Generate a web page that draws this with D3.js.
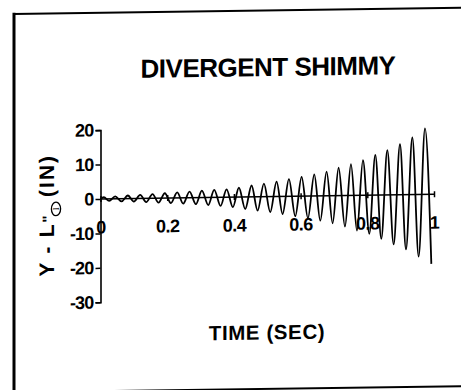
<!DOCTYPE html>
<html>
<head>
<meta charset="utf-8">
<script src="https://cdn.jsdelivr.net/npm/d3@7"></script>
<style>
  html, body { margin: 0; padding: 0; background: #fff; }
  svg { display: block; }
</style>
</head>
<body>
<script>
// Labels
const chartTitle = "DIVERGENT SHIMMY";
const xTitle = "TIME (SEC)";
const xTicks = [0, 0.2, 0.4, 0.6, 0.8, 1];
const xTickLabels = ["0", "0.2", "0.4", "0.6", "0.8", "1"];
const yTicks = [20, 10, 0, -10, -20, -30];
const yTickLabels = ["20", "10", "0", "-10", "-20", "-30"];

// Turning points of the shimmy trace: time (s) and lateral displacement (in)
const time = [
  0, 0.010, 0.026, 0.044, 0.063, 0.082, 0.100, 0.119, 0.137, 0.156, 0.174,
  0.193, 0.211, 0.230, 0.248, 0.267, 0.286, 0.304, 0.323, 0.341, 0.360,
  0.378, 0.397, 0.415, 0.434, 0.453, 0.471, 0.490, 0.509, 0.528, 0.546,
  0.565, 0.584, 0.603, 0.622, 0.641, 0.659, 0.678, 0.696, 0.714, 0.733,
  0.751, 0.769, 0.787, 0.806, 0.824, 0.842, 0.860, 0.879, 0.898, 0.916,
  0.935, 0.954, 0.973, 0.992
];
const displacement = [
  0, 0.5, -0.6, 0.7, -0.8, 0.9, -0.9, 1.0, -1.1, 1.2, -1.3,
  1.4, -1.5, 1.6, -1.7, 1.8, -1.9, 2.0, -2.2, 2.2, -2.5,
  2.3, -2.9, 2.7, -3.5, 3.3, -4.0, 3.8, -4.5, 4.3, -5.1,
  5.0, -5.8, 5.6, -6.4, 6.3, -7.2, 7.0, -8.0, 8.1, -9.0,
  9.1, -10.2, 10.2, -11.2, 11.7, -12.7, 13.0, -14.4, 14.7, -15.9,
  16.6, -18.0, 19.2, -20.2
];

const W = 461, H = 390;
const FONT = "'Liberation Sans', Arial, Helvetica, sans-serif";

const svg = d3.select("body").append("svg")
  .attr("width", W).attr("height", H)
  .style("background", "#fff");

// the whole sheet sits with a slight tilt
const g = svg.append("g").attr("transform", "matrix(1,-0.014,0,1,0,0)");

// page frame
g.append("line").attr("x1", 14).attr("x2", 14).attr("y1", 13).attr("y2", 400)
  .attr("stroke", "#000").attr("stroke-width", 3);
g.append("line").attr("x1", 13).attr("x2", 480).attr("y1", 14.2).attr("y2", 14.2)
  .attr("stroke", "#000").attr("stroke-width", 2);
g.append("line").attr("x1", 13).attr("x2", 480).attr("y1", 392.6).attr("y2", 392.6)
  .attr("stroke", "#000").attr("stroke-width", 2);

// scales
const x = d3.scaleLinear().domain([0, 1]).range([100.5, 434]);
const y = d3.scaleLinear().domain([-30, 20]).range([303.7, 131.5]);

// title
g.append("text")
  .attr("x", 268).attr("y", 79.8)
  .attr("text-anchor", "middle")
  .attr("font-family", FONT).attr("font-weight", "bold")
  .attr("font-size", 26).attr("letter-spacing", -0.5)
  .text(chartTitle);

// y axis
const yAxis = g.append("g")
  .attr("transform", `translate(${x(0)},0)`)
  .call(d3.axisLeft(y).tickValues(yTicks)
    .tickFormat((d, i) => yTickLabels[i])
    .tickSize(5).tickPadding(2));
yAxis.attr("font-family", FONT).attr("font-size", 18).attr("font-weight", "bold");
yAxis.selectAll("text").attr("letter-spacing", -0.8).attr("fill", "#000");
yAxis.selectAll("line").attr("stroke", "#000").attr("stroke-width", 1.5);
yAxis.select(".domain").attr("stroke", "#000").attr("stroke-width", 1.6);

// x axis drawn through zero
const xAxis = g.append("g")
  .attr("transform", `translate(0,${y(0)})`)
  .call(d3.axisBottom(x).tickValues(xTicks)
    .tickFormat((d, i) => xTickLabels[i])
    .tickSize(3).tickPadding(18.6));
xAxis.attr("font-family", FONT).attr("font-size", 18).attr("font-weight", "bold");
xAxis.selectAll("text").attr("letter-spacing", -0.5).attr("fill", "#000");
xAxis.selectAll(".tick line").attr("y1", -3).attr("stroke", "#000").attr("stroke-width", 1.5);
xAxis.select(".domain").attr("stroke", "#000").attr("stroke-width", 1.6)
  .attr("d", `M${x(0)},0H${x(1)}`);

// displacement trace
const pts = time.map((t, i) => [t, displacement[i]]);
g.append("path")
  .datum(pts)
  .attr("fill", "none")
  .attr("stroke", "#000")
  .attr("stroke-width", 1.8)
  .attr("stroke-linejoin", "round")
  .attr("d", d3.line().x(d => x(d[0])).y(d => y(d[1])).curve(d3.curveMonotoneX));

// x axis title
g.append("text")
  .attr("x", 267).attr("y", 343.2)
  .attr("text-anchor", "middle")
  .attr("font-family", FONT).attr("font-weight", "bold")
  .attr("font-size", 20.5).attr("letter-spacing", 0.6)
  .text(xTitle);

// y axis title: Y - L" with a circled subscript I, then (IN)
const yt = g.append("g")
  .attr("transform", "translate(54,283.7) rotate(-90)")
  .attr("font-family", FONT).attr("font-weight", "bold");
yt.append("text")
  .attr("x", 6.5).attr("y", 0)
  .attr("font-size", 21)
  .attr("textLength", 52).attr("lengthAdjust", "spacing")
  .text("Y - L");
yt.append("text")
  .attr("x", 60.5).attr("y", -1)
  .attr("font-size", 15)
  .text("\"");
yt.append("ellipse")
  .attr("cx", 74).attr("cy", 2).attr("rx", 6.8).attr("ry", 4.6)
  .attr("fill", "none").attr("stroke", "#000").attr("stroke-width", 1.3);
yt.append("text")
  .attr("x", 74).attr("y", 5.2)
  .attr("text-anchor", "middle")
  .attr("font-family", "'Liberation Serif', 'DejaVu Serif', serif")
  .attr("font-weight", "normal")
  .attr("font-size", 9)
  .text("I");
yt.append("text")
  .attr("x", 86).attr("y", 0)
  .attr("font-size", 21)
  .attr("textLength", 41).attr("lengthAdjust", "spacing")
  .text("(IN)");
</script>
</body>
</html>
